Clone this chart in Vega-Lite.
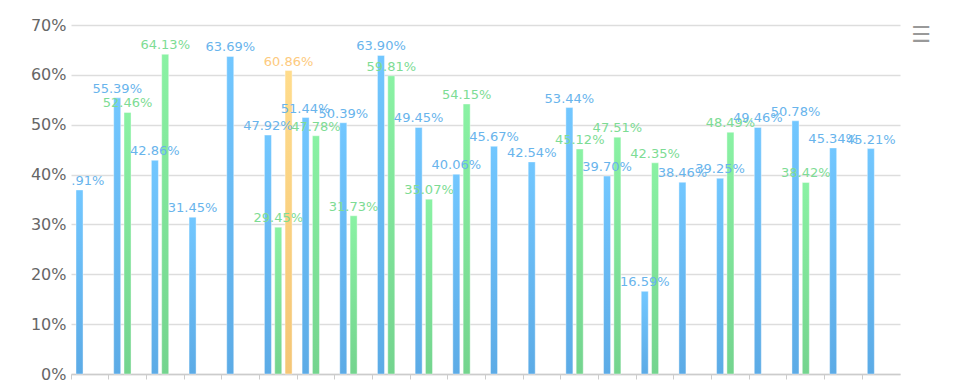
{
  "$schema": "https://vega.github.io/schema/vega-lite/v6.json",
  "width": 829,
  "height": 349,
  "autosize": {"type": "none"},
  "padding": {"left": 71, "top": 25, "right": 63, "bottom": 10},
  "background": "white",
  "config": {"view": {"stroke": null}, "font": "DejaVu Sans"},
  "title": {"text": "☰", "anchor": "end", "frame": "group", "fontSize": 22, "fontWeight": "normal", "color": "#999999", "dx": 31, "dy": 40, "baseline": "middle", "offset": 0},
  "data": {"values": [
    {"c": 1, "s": "a", "v": 0.3691},
    {"c": 2, "s": "a", "v": 0.5539}, {"c": 2, "s": "b", "v": 0.5246},
    {"c": 3, "s": "a", "v": 0.4286}, {"c": 3, "s": "b", "v": 0.6413},
    {"c": 4, "s": "a", "v": 0.3145},
    {"c": 5, "s": "a", "v": 0.6369},
    {"c": 6, "s": "a", "v": 0.4792}, {"c": 6, "s": "b", "v": 0.2945}, {"c": 6, "s": "c", "v": 0.6086},
    {"c": 7, "s": "a", "v": 0.5144}, {"c": 7, "s": "b", "v": 0.4778},
    {"c": 8, "s": "a", "v": 0.5039}, {"c": 8, "s": "b", "v": 0.3173},
    {"c": 9, "s": "a", "v": 0.6390}, {"c": 9, "s": "b", "v": 0.5981},
    {"c": 10, "s": "a", "v": 0.4945}, {"c": 10, "s": "b", "v": 0.3507},
    {"c": 11, "s": "a", "v": 0.4006}, {"c": 11, "s": "b", "v": 0.5415},
    {"c": 12, "s": "a", "v": 0.4567},
    {"c": 13, "s": "a", "v": 0.4254},
    {"c": 14, "s": "a", "v": 0.5344}, {"c": 14, "s": "b", "v": 0.4512},
    {"c": 15, "s": "a", "v": 0.3970}, {"c": 15, "s": "b", "v": 0.4751},
    {"c": 16, "s": "a", "v": 0.1659}, {"c": 16, "s": "b", "v": 0.4235},
    {"c": 17, "s": "a", "v": 0.3846},
    {"c": 18, "s": "a", "v": 0.3925}, {"c": 18, "s": "b", "v": 0.4849},
    {"c": 19, "s": "a", "v": 0.4946},
    {"c": 20, "s": "a", "v": 0.5078}, {"c": 20, "s": "b", "v": 0.3842},
    {"c": 21, "s": "a", "v": 0.4534},
    {"c": 22, "s": "a", "v": 0.4521}
  ]},
  "encoding": {
    "x": {"field": "c", "type": "ordinal", "scale": {"paddingInner": 0, "paddingOuter": 0},
      "axis": {"title": null, "labels": false, "domain": true, "domainColor": "#cccccc", "domainWidth": 1.5, "ticks": true, "tickColor": "#cccccc", "tickSize": 5, "bandPosition": 0, "grid": false}},
    "xOffset": {"field": "s", "type": "nominal", "scale": {"domain": ["a", "b", "c"], "paddingInner": 0.32, "paddingOuter": 0.485}},
    "y": {"field": "v", "type": "quantitative", "scale": {"domain": [0, 0.7], "nice": false},
      "axis": {"title": null, "format": ".0%", "values": [0, 0.1, 0.2, 0.3, 0.4, 0.5, 0.6, 0.7], "labelFontSize": 16, "labelColor": "#666666", "labelPadding": 5, "domain": false, "ticks": false, "grid": true, "gridColor": "#dddddd", "gridWidth": 1.5}}
  },
  "layer": [
    {"transform": [{"filter": "datum.s === 'a'"}],
     "mark": {"type": "bar", "stroke": "#ffffff", "strokeOpacity": 0.4, "strokeWidth": 1,
       "color": {"gradient": "linear", "x1": 0, "y1": 0, "x2": 0, "y2": 1, "stops": [{"offset": 0, "color": "#72c7ff"}, {"offset": 1, "color": "#5cabe6"}]}}},
    {"transform": [{"filter": "datum.s === 'b'"}],
     "mark": {"type": "bar", "stroke": "#ffffff", "strokeOpacity": 0.4, "strokeWidth": 1,
       "color": {"gradient": "linear", "x1": 0, "y1": 0, "x2": 0, "y2": 1, "stops": [{"offset": 0, "color": "#8af2a4"}, {"offset": 1, "color": "#74d48e"}]}}},
    {"transform": [{"filter": "datum.s === 'c'"}],
     "mark": {"type": "bar", "stroke": "#ffffff", "strokeOpacity": 0.4, "strokeWidth": 1,
       "color": {"gradient": "linear", "x1": 0, "y1": 0, "x2": 0, "y2": 1, "stops": [{"offset": 0, "color": "#ffdc8c"}, {"offset": 1, "color": "#f5c676"}]}}},
    {"mark": {"type": "text", "fontSize": 13, "baseline": "alphabetic", "dy": -5, "clip": true},
     "encoding": {
       "text": {"field": "v", "type": "quantitative", "format": ".2%"},
       "color": {"field": "s", "type": "nominal", "legend": null, "scale": {"domain": ["a", "b", "c"], "range": ["#68b4ec", "#7ddc94", "#fdca7e"]}}
     }}
  ]
}
